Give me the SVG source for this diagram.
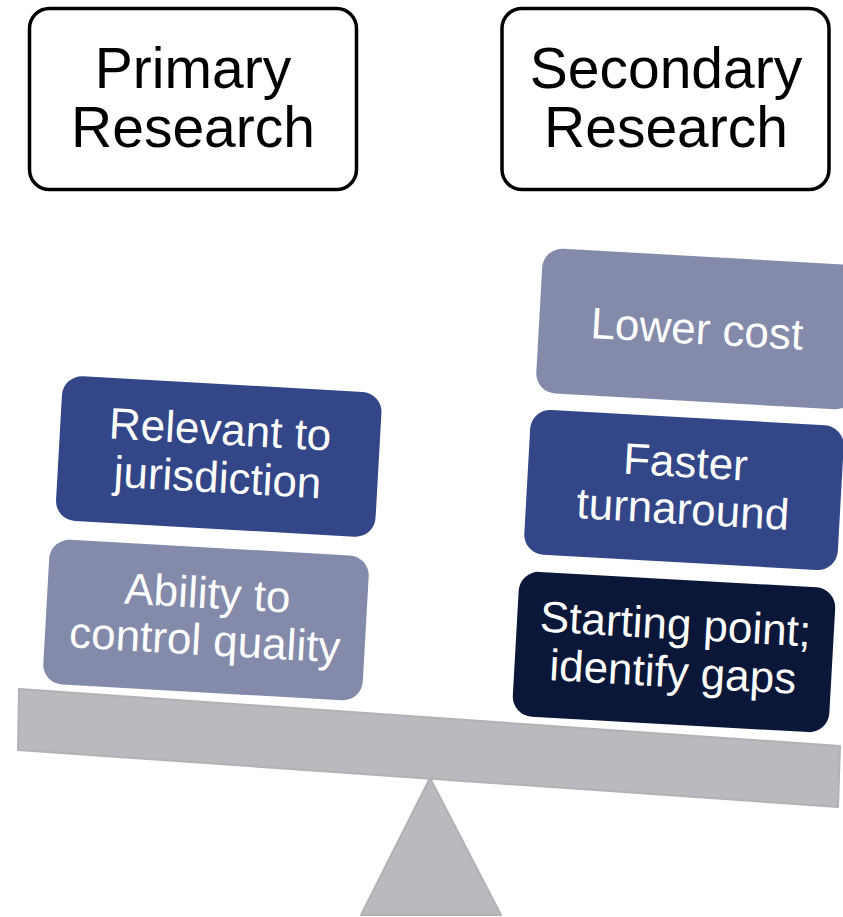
<svg xmlns="http://www.w3.org/2000/svg" width="843" height="917" viewBox="0 0 843 917">
<style>
.hdr{fill:#fff;stroke:#000;stroke-width:3.5}
.ht{font-family:"Liberation Sans",Arial,sans-serif;font-size:57px;fill:#000;text-anchor:middle}
.bt{font-family:"Liberation Sans",Arial,sans-serif;font-size:44px;fill:#fff;text-anchor:middle}
.mid{fill:#334687}
.light{fill:#848aaa}
.dark{fill:#0b1738}
.seesaw{fill:#b9babe;stroke:#b1b2b6;stroke-width:2;stroke-linejoin:round}
</style>
<rect width="843" height="917" fill="#fff"/>
<g id="primary">
<rect class="hdr" x="29.5" y="8.5" width="327" height="181" rx="20"/>
<text class="ht" x="193" y="88">Primary</text>
<text class="ht" x="193" y="147">Research</text>
</g>
<g id="secondary">
<rect class="hdr" x="502" y="8.5" width="327" height="181" rx="20"/>
<text class="ht" x="666" y="88">Secondary</text>
<text class="ht" x="666" y="147">Research</text>
</g>
<g id="seesaw">
<polygon class="seesaw" points="19,689 840,746 838,807 18,750"/>
<polygon class="seesaw" points="430,778 361,915 501,915"/>
</g>
<g id="relevant" transform="rotate(3.2 218.75 456.5)">
<rect class="mid" x="58.75" y="384" width="320" height="145" rx="20"/>
<text class="bt" x="218.75" y="444.5">Relevant to</text>
<text class="bt" x="218.75" y="492.5">jurisdiction</text>
</g>
<g id="ability" transform="rotate(3.2 206 620)">
<rect class="light" x="46" y="547.5" width="320" height="145" rx="20"/>
<text class="bt" x="206" y="608">Ability to</text>
<text class="bt" x="206" y="655">control quality</text>
</g>
<g id="lower" transform="rotate(3.2 699 329)">
<rect class="light" x="539" y="256.5" width="320" height="145" rx="20"/>
<text class="bt" x="697" y="344">Lower cost</text>
</g>
<g id="faster" transform="rotate(3.2 684 490)">
<rect class="mid" x="527" y="417.5" width="314" height="145" rx="20"/>
<text class="bt" x="684" y="477">Faster</text>
<text class="bt" x="684" y="524">turnaround</text>
</g>
<g id="starting" transform="rotate(3.2 674 652)">
<rect class="dark" x="515.5" y="579.5" width="317" height="145" rx="20"/>
<text class="bt" x="674" y="639">Starting point;</text>
<text class="bt" x="674" y="687">identify gaps</text>
</g>
</svg>
